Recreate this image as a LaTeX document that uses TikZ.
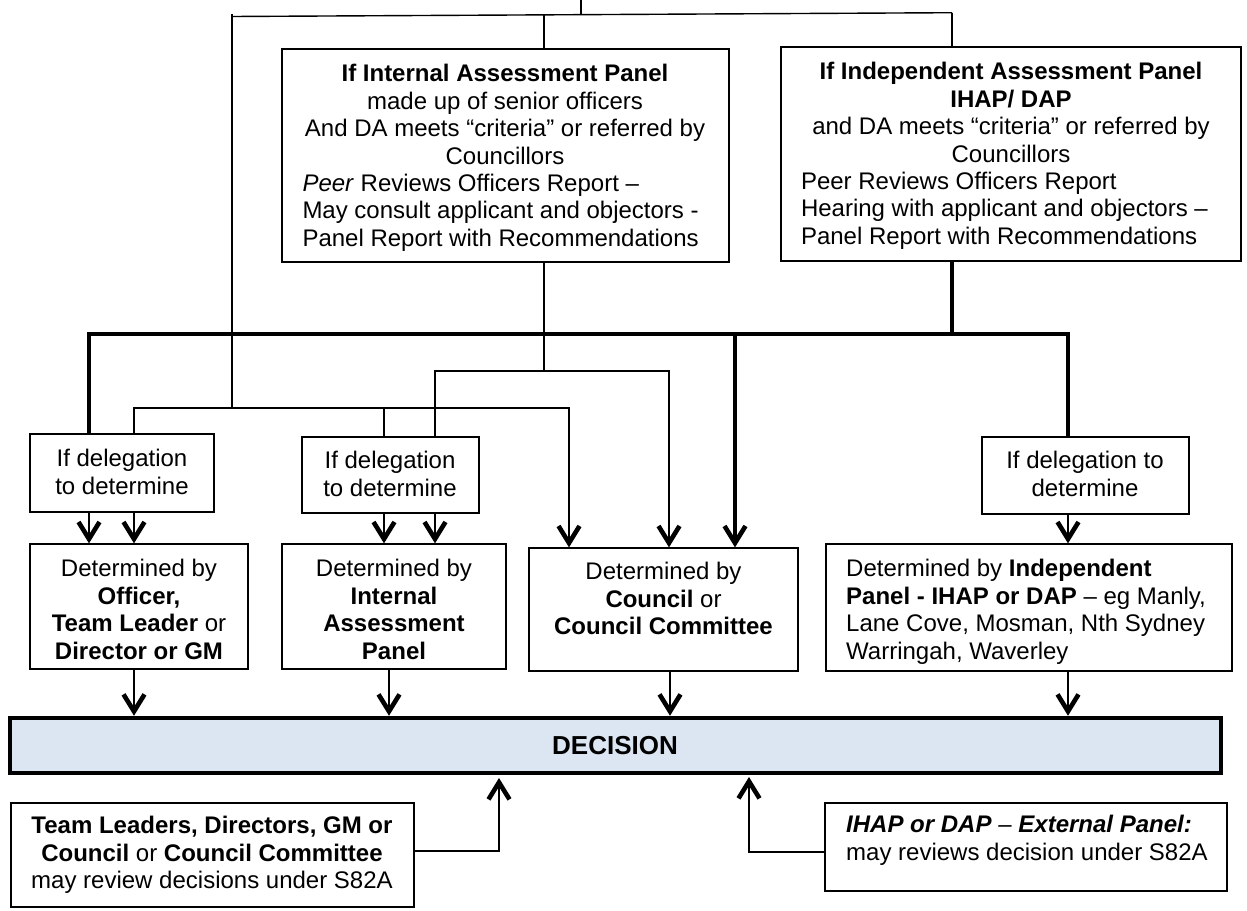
\documentclass[tikz,border=0pt]{standalone}
\usepackage{fontspec}
\setmainfont{Liberation Sans}
\usetikzlibrary{arrows.meta}
\definecolor{decfill}{RGB}{220,230,242}
\newcommand{\fsz}{\fontsize{24pt}{27.4pt}\selectfont}
\newcommand{\fszd}{\fontsize{26pt}{27.4pt}\selectfont}
\begin{document}
\begin{tikzpicture}[x=1pt,y=-1pt,
  box/.style={draw, line width=1.3pt, inner sep=0pt},
  txt/.style={inner sep=0pt, font=\fsz, align=center},
  txtl/.style={inner sep=0pt, font=\fsz, align=left},
  ln/.style={line width=1.4pt},
  med/.style={line width=2.6pt},
  thk/.style={line width=3.6pt},
  arr/.style={-{Straight Barb[length=17pt,width=21pt,line width=4.6pt]}},
]
\useasboundingbox (0,0) rectangle (1247,910);

% ---------- boxes ----------
\node[box, minimum width=447pt, minimum height=213pt] (ia)  at (505.5,155.5) {};
\node[box, minimum width=460pt, minimum height=214pt] (iap) at (1011,154) {};
\node[box, minimum width=184pt, minimum height=78pt]  (d1)  at (122,473) {};
\node[box, minimum width=177pt, minimum height=76pt]  (d2)  at (390.5,475) {};
\node[box, minimum width=207pt, minimum height=77pt]  (d3)  at (1085.5,475.5) {};
\node[box, minimum width=218pt, minimum height=125pt] (off) at (139,606.5) {};
\node[box, minimum width=224pt, minimum height=125pt] (iad) at (394,606.5) {};
\node[box, minimum width=269pt, minimum height=123pt] (cc)  at (663.5,609.5) {};
\node[box, minimum width=406pt, minimum height=127pt] (ind) at (1029,607.5) {};
\node[draw, line width=4.5pt, fill=decfill, inner sep=0pt, minimum width=1211pt, minimum height=55pt] (dec) at (615.5,745.5) {};
\node[box, minimum width=403pt, minimum height=104pt] (rv1) at (212.5,855) {};
\node[box, minimum width=402pt, minimum height=88pt]  (rv2) at (1026,847) {};

% ---------- texts ----------
\node[txt] (ia-t) at (505,158.7) {%
\strut\textbf{If Internal Assessment Panel}\\
\strut made up of senior officers\\
\strut And DA meets “criteria” or referred by\\
\strut Councillors\\
\makebox[405pt][l]{\strut\textit{Peer} Reviews Officers Report –}\\
\makebox[405pt][l]{\strut May consult applicant and objectors -}\\
\makebox[405pt][l]{\strut Panel Report with Recommendations}};

\node[txt] (iap-t) at (1011,156.7) {%
\strut\textbf{If Independent Assessment Panel}\\
\strut\textbf{IHAP/ DAP}\\
\strut and DA meets “criteria” or referred by\\
\strut Councillors\\
\makebox[420pt][l]{\strut Peer Reviews Officers Report}\\
\makebox[420pt][l]{\strut Hearing with applicant and objectors –}\\
\makebox[420pt][l]{\strut Panel Report with Recommendations}};

\node[txt] (d1-t) at (122,475.2) {\strut If delegation\\\strut to determine};
\node[txt] (d2-t) at (390,477.2) {\strut If delegation\\\strut to determine};
\node[txt] (d3-t) at (1085,477.2) {\strut If delegation to\\\strut determine};

\node[txt] (off-t) at (139,612.6) {\strut Determined by\\\strut\textbf{Officer,}\\\strut\textbf{Team Leader} or\\\strut\textbf{Director or GM}};
\node[txt] (iad-t) at (394,612.6) {\strut Determined by\\\strut\textbf{Internal}\\\strut\textbf{Assessment}\\\strut\textbf{Panel}};
\node[txt] (cc-t) at (663.5,601.9) {\strut Determined by\\\strut\textbf{Council} or\\\strut\textbf{Council Committee}};
\node[txtl, anchor=west] (ind-t) at (846,612.6) {\strut Determined by \textbf{Independent}\\\strut\textbf{Panel - IHAP or DAP} – eg Manly,\\\strut Lane Cove, Mosman, Nth Sydney\\\strut Warringah, Waverley};

\node[txt, font=\fszd] (dec-t) at (615,749.5) {\strut\textbf{DECISION}};

\node[txt] (rv1-t) at (212,855.9) {\strut\textbf{Team Leaders, Directors, GM or}\\\strut\textbf{Council} or \textbf{Council Committee}\\\strut may review decisions under S82A};
\node[txtl, anchor=west] (rv2-t) at (846,841.2) {\strut\textbf{\textit{IHAP or DAP}} \textit{–} \textbf{\textit{External Panel:}}\\\strut may reviews decision under S82A};

% ---------- junction coordinates ----------
\coordinate (top) at (581,0);
\coordinate (hL) at (232,16.5);
\coordinate (hR) at (952,12.7);
\coordinate (tM) at (581,14.7);
\coordinate (g) at (544,14.9);
\coordinate (kL) at (89,334);
\coordinate (kM) at (735,334);
\coordinate (kR) at (1068,334);
\coordinate (mL) at (134,408);
\coordinate (m2) at (384,408);
\coordinate (mR) at (569,408);
\coordinate (nL) at (435,371);
\coordinate (nR) at (669,371);
\coordinate (e2) at (389,0);
\coordinate (e3) at (670,0);
\coordinate (j1) at (499,851);
\coordinate (u1) at (499,778);
\coordinate (j2) at (749,852);
\coordinate (u2) at (749,777);

% ---------- top connectors ----------
\draw[ln] (top) -- (tM);
\draw[ln] (hL) -- (hR);
\draw[ln] ([yshift=3pt]hL) -- (hL |- mL);
\draw[ln] (g) -- (g |- ia.north);
\draw[ln] (hR) -- (hR |- iap.north);
\draw[ln] (g |- ia.south) -- (g |- nL);
\draw[thk] (hR |- iap.south) -- (hR |- kL);

% ---------- thick bus ----------
\draw[thk] (kL |- d1.north) -- (kL) -- (kR) -- (kR |- d3.north);
\draw[thk, arr] (kM) -- (kM |- cc.north);

% ---------- thin distribution ----------
\draw[ln, arr] (mL |- d1.north) -- (mL) -- (mR) -- (mR |- cc.north);
\draw[ln] (m2) -- (m2 |- d2.north);
\draw[ln, arr] (nL |- d2.north) -- (nL) -- (nR) -- (nR |- cc.north);

% ---------- delegation arrows ----------
\draw[med, arr] (kL |- d1.south) -- (kL |- off.north);
\draw[med, arr] (mL |- d1.south) -- (mL |- off.north);
\draw[med, arr] (m2 |- d2.south) -- (m2 |- iad.north);
\draw[med, arr] (nL |- d2.south) -- (nL |- iad.north);
\draw[med, arr] (kR |- d3.south) -- (kR |- ind.north);

% ---------- into decision ----------
\draw[ln, arr] (mL |- off.south) -- (mL |- dec.north);
\draw[ln, arr] (e2 |- iad.south) -- (e2 |- dec.north);
\draw[ln, arr] (e3 |- cc.south) -- (e3 |- dec.north);
\draw[ln, arr] (kR |- ind.south) -- (kR |- dec.north);

% ---------- reviews ----------
\draw[ln, arr] (rv1.east |- j1) -- (j1) -- (u1);
\draw[ln, arr] (rv2.west |- j2) -- (j2) -- (u2);
\end{tikzpicture}
\end{document}
